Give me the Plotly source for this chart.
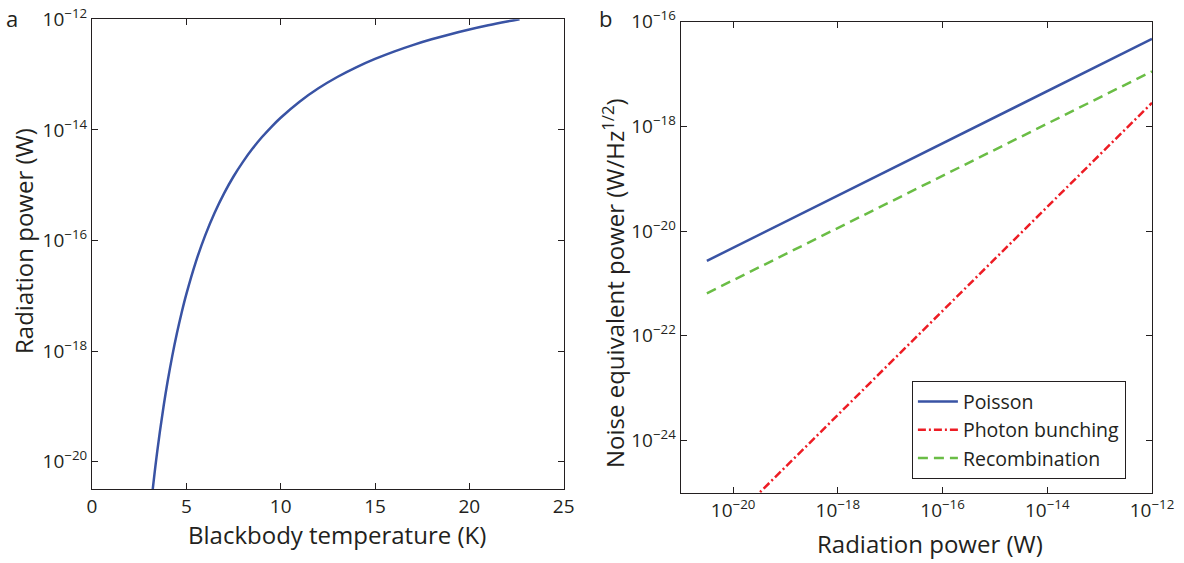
import plotly.graph_objects as go

# ---- Panel a: blackbody radiation power vs temperature
temp_K = [3.22, 3.4, 3.6, 3.8, 4.0, 4.25, 4.5, 4.75, 5.0, 5.5, 6.0, 6.5, 7.0, 7.5, 8.0, 8.5, 9.0, 9.5,
          10.0, 11.0, 12.0, 13.0, 14.0, 15.0, 16.0, 17.0, 18.0, 19.0, 20.0, 21.0, 22.0, 22.66]
log_power_W = [-20.497, -19.972, -19.451, -18.985, -18.565, -18.096, -17.679, -17.306, -16.970,
               -16.390, -15.907, -15.498, -15.147, -14.843, -14.578, -14.343, -14.134, -13.948,
               -13.780, -13.490, -13.248, -13.044, -12.869, -12.717, -12.584, -12.466, -12.362,
               -12.269, -12.185, -12.109, -12.040, -11.998]

# ---- Panel b: NEP vs radiation power (log10 values)
log_rad_power = [-20.5, -12.0]
log_nep_poisson = [-20.57, -16.33]
log_nep_bunching = [-26.0, -17.55]
log_nep_recomb = [-21.19, -16.95]

series_names = ["Poisson", "Photon bunching", "Recombination"]
colors = ["rgb(57,83,164)", "rgb(237,28,36)", "rgb(106,189,69)"]

left_yticks = [-20, -18, -16, -14, -12]
right_yticks = [-24, -22, -20, -18, -16]
right_xticks = [-20, -18, -16, -14, -12]
left_xticks = [0, 5, 10, 15, 20, 25]

W, H = 1184, 563


def p10(v):
    return 10.0 ** v


def sup(e):
    return "10<sup>\u2212%d</sup>" % (-e)


FONT = "Open Sans"
INK = "#231f20"
fig = go.Figure()

fig.add_trace(go.Scatter(x=temp_K, y=[p10(v) for v in log_power_W], mode="lines",
                         line=dict(color=colors[0], width=2.5, shape="spline", smoothing=1.0),
                         xaxis="x", yaxis="y", showlegend=False))

fig.add_trace(go.Scatter(x=[p10(v) for v in log_rad_power], y=[p10(v) for v in log_nep_poisson],
                         mode="lines", name=series_names[0],
                         line=dict(color=colors[0], width=2.5), xaxis="x2", yaxis="y2"))
fig.add_trace(go.Scatter(x=[p10(v) for v in log_rad_power], y=[p10(v) for v in log_nep_bunching],
                         mode="lines", name=series_names[1],
                         line=dict(color=colors[1], width=2.5, dash="8px,3px,2px,3px"),
                         xaxis="x2", yaxis="y2"))
fig.add_trace(go.Scatter(x=[p10(v) for v in log_rad_power], y=[p10(v) for v in log_nep_recomb],
                         mode="lines", name=series_names[2],
                         line=dict(color=colors[2], width=2.5, dash="10px,6px"),
                         xaxis="x2", yaxis="y2"))

axis_common = dict(showline=True, linecolor=INK, linewidth=1.2, mirror="ticks",
                   ticks="inside", ticklen=6, tickcolor=INK, showgrid=False, automargin=False,
                   zeroline=False, tickfont=dict(family=FONT, size=19, color=INK))

fig.update_layout(
    width=W, height=H,
    margin=dict(l=0, r=0, t=0, b=0),
    paper_bgcolor="white", plot_bgcolor="white",
    xaxis=dict(axis_common, domain=[92 / W, 563.7 / W], range=[0, 25],
               tickvals=left_xticks, ticktext=[str(v) for v in left_xticks], anchor="y"),
    yaxis=dict(axis_common, domain=[1 - 489.3 / H, 1 - 19.3 / H], type="log", range=[-20.5, -12],
               tickvals=[p10(v) for v in left_yticks], ticktext=[sup(v) for v in left_yticks],
               anchor="x"),
    xaxis2=dict(axis_common, domain=[680.7 / W, 1152 / W], type="log", range=[-21, -12],
                tickvals=[p10(v) for v in right_xticks], ticktext=[sup(v) for v in right_xticks],
                anchor="y2"),
    yaxis2=dict(axis_common, domain=[1 - 492.7 / H, 1 - 21.7 / H], type="log", range=[-25, -16],
                tickvals=[p10(v) for v in right_yticks], ticktext=[sup(v) for v in right_yticks],
                anchor="x2"),
    legend=dict(x=911.7 / W, y=1 - 381 / H, xanchor="left", yanchor="top",
                bordercolor=INK, borderwidth=1.2, bgcolor="white",
                font=dict(family=FONT, size=19.5, color=INK),
                tracegroupgap=0, itemwidth=40),
)

annots = [
    ("a", 12, 18, 0, 22),
    ("b", 605, 18, 0, 22),
    ("Blackbody temperature (K)", 337, 534, 0, 24),
    ("Radiation power (W)", 23, 241, -90, 24),
    ("Radiation power (W)", 929.5, 543, 0, 24),
    ("Noise equivalent power (W/Hz<sup>1/2</sup>)", 614, 283, -90, 24),
]
for text, px, py, ang, size in annots:
    fig.add_annotation(text=text, x=px / W, y=1 - py / H, xref="paper", yref="paper",
                       showarrow=False, textangle=ang, xanchor="center", yanchor="middle",
                       font=dict(family=FONT, size=size, color=INK))

fig.write_html("out.html")
